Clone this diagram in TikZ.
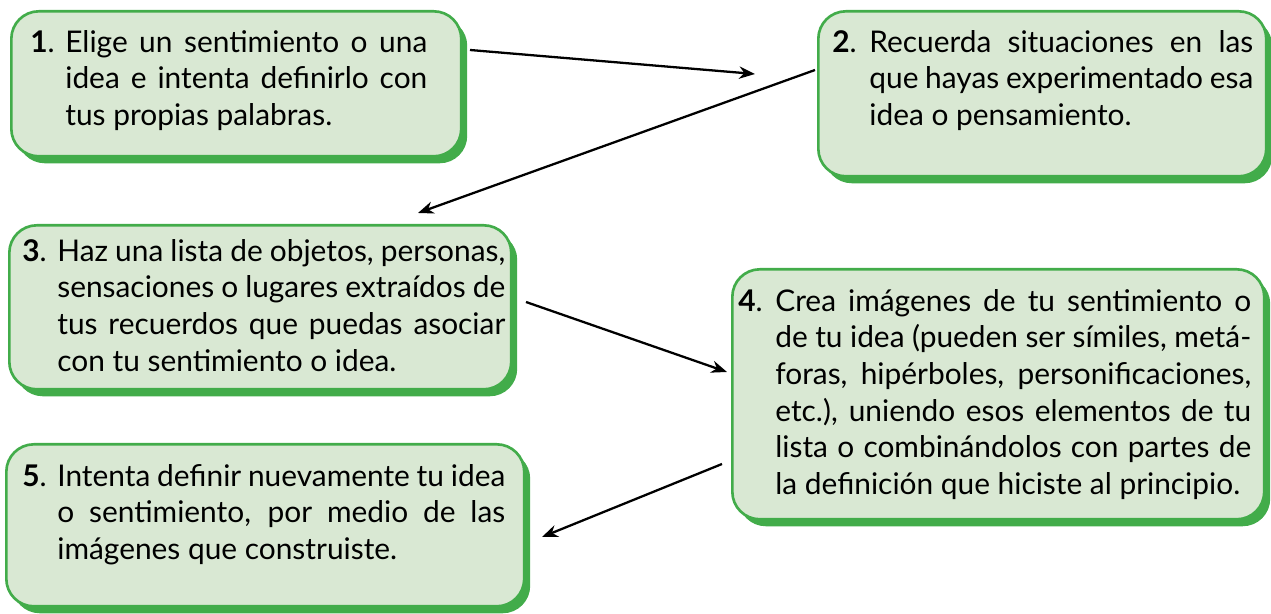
\documentclass[tikz,border=0pt]{standalone}
\usepackage{fontspec}
\setmainfont{Lato}
\usetikzlibrary{arrows.meta,shadows}

\definecolor{boxgreen}{RGB}{66,172,74}
\definecolor{boxfill}{RGB}{217,232,211}
\newcommand{\steplines}{\fontsize{17}{20.9}\selectfont}

\tikzset{
  stepbox/.style={draw=boxgreen, line width=1.5pt, fill=boxfill,
    rounded corners=0.55cm, anchor=north west, inner sep=0pt,
    drop shadow={shadow xshift=0.12cm, shadow yshift=-0.14cm, opacity=1, fill=boxgreen}},
  steptext/.style={anchor=north west, inner sep=0pt, align=justify, font=\steplines},
  stepnum/.style={anchor=north west, inner sep=0pt, font=\steplines},
  flow/.style={-{Stealth[length=9pt,width=7pt]}, line width=1.3pt}
}

\begin{document}
\begin{tikzpicture}
        [x=0.02cm,y=-0.02cm]
        \useasboundingbox (0,0) rectangle (1271,614);

        \node[stepbox, minimum width=9cm, minimum height=2.9cm] (b1) at (10,10) {};
        \node[stepbox, minimum width=8.96cm, minimum height=3.3cm] (b2) at (817,10) {};
        \node[stepbox, minimum width=10.04cm, minimum height=3.28cm] (b3) at (8,224) {};
        \node[stepbox, minimum width=10.64cm, minimum height=5cm] (b4) at (731,268) {};
        \node[stepbox, minimum width=10.36cm, minimum height=3.24cm] (b5) at (5,443) {};

        \node[stepnum] (n1) at (30,26) {\strut\textbf{1}.};
        \node[steptext, text width=7.24cm] (t1) at (65,26)
          {\strut Elige un sentimiento o una\linebreak idea e intenta definirlo con\linebreak tus propias palabras.};

        \node[stepnum] (n2) at (832,26) {\strut\textbf{2}.};
        \node[steptext, text width=7.68cm] (t2) at (869,26)
          {\strut Recuerda situaciones en las\linebreak que hayas experimentado esa\linebreak idea o pensamiento.};

        \node[stepnum] (n3) at (22,235) {\strut\textbf{3}.};
        \node[steptext, text width=8.96cm] (t3) at (57,235)
          {\strut Haz una lista de objetos, personas,\linebreak sensaciones o lugares extraídos de\linebreak tus recuerdos que puedas asociar\linebreak con tu sentimiento o idea.};

        \node[stepnum] (n4) at (738,285) {\strut\textbf{4}.};
        \node[steptext, text width=9.52cm] (t4) at (775,285)
          {\strut Crea imágenes de tu sentimiento o\linebreak de tu idea (pueden ser símiles, metá-\linebreak foras, hipérboles, personificaciones,\linebreak etc.), uniendo esos elementos de tu\linebreak lista o combinándolos con partes de\linebreak la definición que hiciste al principio.};

        \node[stepnum] (n5) at (22,460) {\strut\textbf{5}.};
        \node[steptext, text width=8.96cm] (t5) at (57,460)
          {\strut Intenta definir nuevamente tu idea\linebreak o sentimiento, por medio de las\linebreak imágenes que construiste.};

        \coordinate (a1s) at (470,50);
        \coordinate (a1e) at (755,74);
        \coordinate (a2s) at (815,70);
        \coordinate (a2e) at (418,213);
        \coordinate (a3s) at (526,302);
        \coordinate (a3e) at (727,372);
        \coordinate (a4s) at (722,464);
        \coordinate (a4e) at (542,537);

        \draw[flow] (a1s) -- (a1e);
        \draw[flow] (a2s) -- (a2e);
        \draw[flow] (a3s) -- (a3e);
        \draw[flow] (a4s) -- (a4e);
      \end{tikzpicture}
\end{document}
